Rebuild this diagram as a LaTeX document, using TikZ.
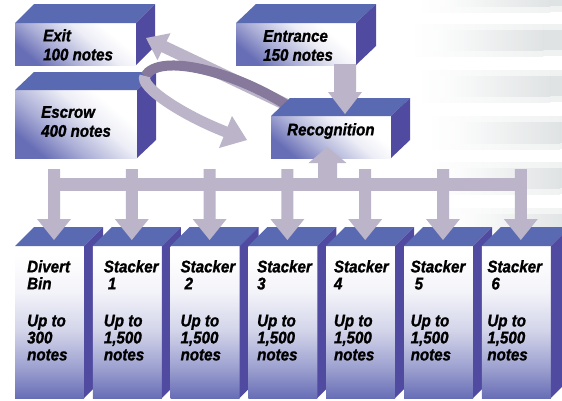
\documentclass[tikz,border=0pt]{standalone}
\usepackage{fontspec}
\newfontfamily\labfont[FakeStretch=0.9, FakeBold=1.2]{Liberation Sans}
\usetikzlibrary{calc}
\definecolor{topc}{RGB}{90,106,178}
\definecolor{sidec}{RGB}{80,74,160}
\definecolor{faceb}{RGB}{104,110,182}
\definecolor{arrc}{RGB}{188,181,202}
\definecolor{ribd}{RGB}{134,121,155}
\definecolor{streak}{RGB}{214,218,219}
\pgfdeclareverticalshading{bshade}{100bp}{color(0bp)=(faceb); color(25bp)=(faceb); color(35bp)=(faceb!65!white); color(47bp)=(faceb!30!white); color(60bp)=(faceb!8!white); color(72bp)=(white); color(100bp)=(white)}
\pgfdeclareverticalshading{tshade}{100bp}{color(0bp)=(faceb); color(25bp)=(faceb); color(40bp)=(faceb!55!white); color(58bp)=(faceb!12!white); color(70bp)=(white); color(100bp)=(white)}
\newcommand\boxfaces[3]{%
  \fill[topf] (#1.north west) -- ++(#2,-#3) -- ($(#1.north east)+(#2,-#3)$) -- (#1.north east) -- cycle;
  \fill[sidef] (#1.north east) -- ++(#2,-#3) -- ($(#1.south east)+(#2,-#3)$) -- (#1.south east) -- cycle;}
\begin{document}
\begin{tikzpicture}[x=1pt,y=-1pt,
  front/.style={inner sep=0pt, outer sep=0pt, anchor=north west, shading=tshade, shading angle=-40},
  bfront/.style={inner sep=0pt, outer sep=0pt, anchor=north west, shading=bshade},
  topf/.style={fill=topc},
  sidef/.style={fill=sidec},
  arr/.style={fill=arrc},
  lbl/.style={font=\labfont\bfseries\itshape\fontsize{16.8}{19}\selectfont, inner sep=0pt, align=left, anchor=north west},
  blbl/.style={font=\labfont\bfseries\itshape\fontsize{16.8}{17}\selectfont, inner sep=0pt, align=left, anchor=north west}]
\useasboundingbox (0,0) rectangle (562,400);
\fill[white] (0,0) rectangle (562,400);

% background streaks
\foreach \ya/\yb/\xs in {-6/8/420, 28/52/413, 74/98/420, 120/145/430, 166/190/430, 212/232/440}{
  \shade[left color=white, right color=streak, opacity=0.35] (\xs,\ya-4) rectangle (\xs+130,\yb+4);
  \fill[streak, opacity=0.35] (\xs+130,\ya-4) rectangle (562,\yb+4);
  \shade[left color=white, right color=streak, opacity=0.6] (\xs+20,\ya+2) rectangle (\xs+130,\yb-2);
  \fill[streak, opacity=0.6] (\xs+130,\ya+2) rectangle (562,\yb-2);
}

% upper-left boxes
\node[front, minimum width=121pt, minimum height=42pt] (exit) at (15,23) {};
\boxfaces{exit}{19}{19}
\node[front, minimum width=122pt, minimum height=68pt] (escrow) at (15,90) {};
\boxfaces{escrow}{19}{18}

% exit arrow (from recognition to exit)
\coordinate (T) at ($(exit.north east)+(10,15)$);
\fill[arr] (T) -- +(24.5,-4.8) -- +(20.6,3.3) -- +(142.6,61.1) -- +(137.4,71.9) -- +(15.4,14.1) -- +(11.5,22.2) -- cycle;

% escrow ribbon (curled arrow)
\draw[ribd, line width=10pt] (288,106) .. controls (235,72) and (160,52) .. (145,76);
\draw[arrc, line width=11pt] (145,76) .. controls (139,86) and (180,114) .. (226,132);
\fill[arr] (247,140) -- (232,116) -- (219,148) -- cycle;

% entrance and recognition
\node[front, minimum width=120pt, minimum height=42pt] (recog) at (271,116) {};
\boxfaces{recog}{19}{18}
\node[front, minimum width=120pt, minimum height=42pt] (entr) at (236,23) {};
\boxfaces{entr}{20}{19}

% entrance -> recognition arrow
\coordinate (ET) at ($(entr.south east)+(-11,49)$);
\fill[arr] (ET) -- ++(17,-22) -- ++(-6,0) -- ++(0,-28) -- ++(-22,0) -- ++(0,28) -- ++(-6,0) -- cycle;

% bottom boxes
\foreach \i/\nm in {0/divert,1/sa,2/sb,3/sc,4/sd,5/se,6/sf}{
  \node[bfront, minimum width=69pt, minimum height=152pt] (\nm) at ({15+77.8*\i},246) {};
  \boxfaces{\nm}{19}{19}
}

% distribution bar and arrows
\fill[arr] ($(divert.north west)+(33,-68)$) rectangle ($(sf.north west)+(45,-55)$);
\coordinate (RT) at ($(recog.south)+(-3.5,-11)$);
\fill[arr] (RT) -- ++(19,16) -- ++(-9.5,0) -- ++(0,17) -- ++(-19,0) -- ++(0,-17) -- ++(-9.5,0) -- cycle;
\foreach \nm in {divert,sa,sb,sc,sd,se,sf}{
  \fill[arr] ($(\nm.north west)+(39,-6)$) -- ++(-17,-21) -- ++(11,0) -- ++(0,-50) -- ++(12,0) -- ++(0,50) -- ++(11,0) -- cycle;
}

% labels
\node[lbl] (exit-t) at (43,29) {Exit\\100 notes};
\node[lbl] (escrow-t) at (41,106) {Escrow\\400 notes};
\node[lbl] (entr-t) at (263,30) {Entrance\\150 notes};
\node[lbl] (recog-t) at (287,123) {Recognition};
\node[blbl] (divert-t) at (27,260) {Divert\\Bin\\[20pt]Up to\\300\\notes};
\node[blbl] (sa-t) at (103.7,260) {Stacker\\\hspace*{4pt}1\\[20pt]Up to\\1,500\\notes};
\node[blbl] (sb-t) at (180.4,260) {Stacker\\\hspace*{4pt}2\\[20pt]Up to\\1,500\\notes};
\node[blbl] (sc-t) at (257,260) {Stacker\\3\\[20pt]Up to\\1,500\\notes};
\node[blbl] (sd-t) at (333.8,260) {Stacker\\4\\[20pt]Up to\\1,500\\notes};
\node[blbl] (se-t) at (410.5,260) {Stacker\\\hspace*{4pt}5\\[20pt]Up to\\1,500\\notes};
\node[blbl] (sf-t) at (487.2,260) {Stacker\\\hspace*{4pt}6\\[20pt]Up to\\1,500\\notes};
\end{tikzpicture}
\end{document}
